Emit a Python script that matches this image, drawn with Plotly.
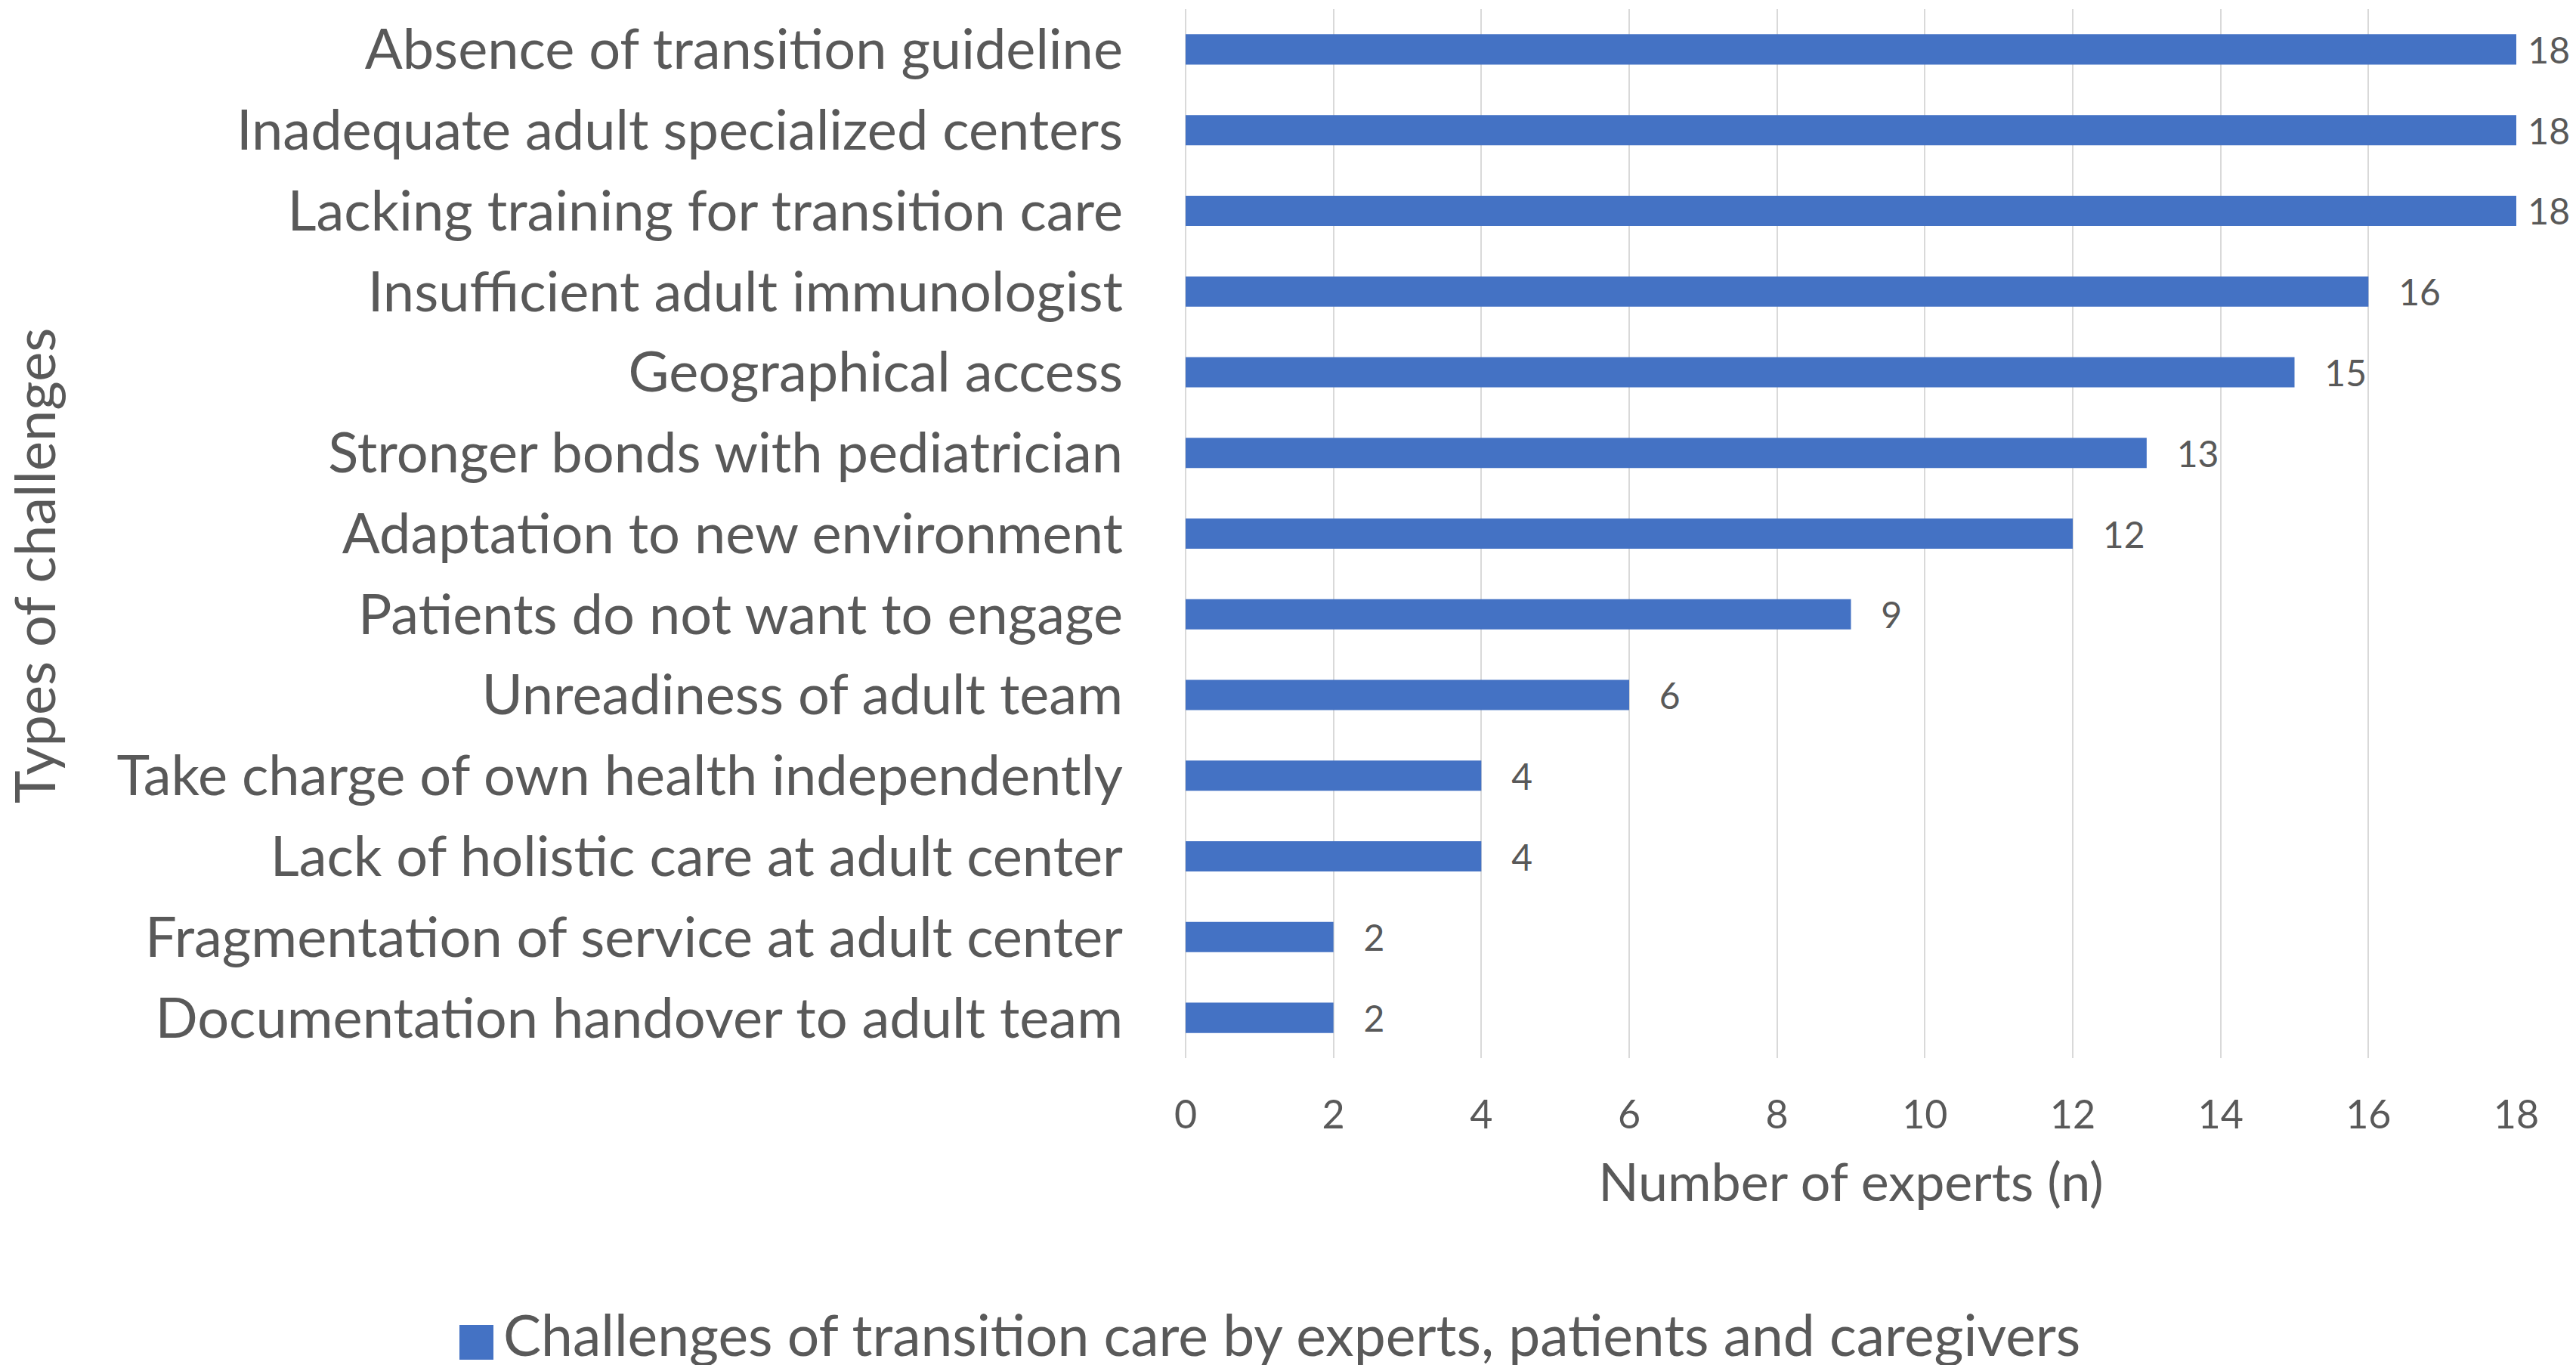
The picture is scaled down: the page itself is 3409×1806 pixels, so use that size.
import plotly.graph_objects as go

categories = [
    "Absence of transition guideline",
    "Inadequate adult specialized centers",
    "Lacking training for transition care",
    "Insufficient adult immunologist",
    "Geographical access",
    "Stronger bonds with pediatrician",
    "Adaptation to new environment",
    "Patients do not want to engage",
    "Unreadiness of adult team",
    "Take charge of own health independently",
    "Lack of holistic care at adult center",
    "Fragmentation of service at adult center",
    "Documentation handover to adult team",
]
values = [18, 18, 18, 16, 15, 13, 12, 9, 6, 4, 4, 2, 2]
series_name = "Challenges of transition care by experts, patients and caregivers"
x_ticks = [0, 2, 4, 6, 8, 10, 12, 14, 16, 18]

W, H = 3409, 1806
L, R, T, B = 1561, 87, 4, 414
PW, PH = W - L - R, H - T - B
FONT = "Lato"
TXT = "#595959"
BLUE = "#4472C4"
GRID = "#D9D9D9"
X_MAX = 18


def px_x(px):
    return (px - L) / PW


def px_y(py):
    return (H - B - py) / PH


# like Excel, labels of bars reaching the axis end sit closer to the bar so they stay visible
bar_labels = [(" " if v >= X_MAX else "   ") + str(v) for v in values]

fig = go.Figure()
fig.add_trace(go.Bar(
    y=categories, x=values, orientation="h",
    name=series_name, showlegend=False,
    marker=dict(color=BLUE, line=dict(width=0)),
    text=bar_labels, texttemplate="%{text}", textposition="outside",
    constraintext="none",
    textfont=dict(family=FONT, size=48, color=TXT),
    cliponaxis=False,
))

fig.update_layout(
    width=W, height=H,
    margin=dict(l=L, r=R, t=T, b=B, pad=0),
    paper_bgcolor="white", plot_bgcolor="white",
    bargap=0.625,
    font=dict(family=FONT, color=TXT),
    showlegend=False,
    xaxis=dict(range=[0, X_MAX], tickvals=x_ticks, showgrid=True, gridcolor=GRID, gridwidth=2,
               zeroline=True, zerolinecolor=GRID, zerolinewidth=2,
               showline=False, ticks="", tickfont=dict(family=FONT, size=52, color=TXT),
               ticklabelstandoff=40,
               title=dict(text="Number of experts (n)", font=dict(family=FONT, size=70, color=TXT), standoff=36)),
    yaxis=dict(range=[12.5, -0.5], showgrid=False, showline=False, ticks="",
               tickfont=dict(family=FONT, size=74, color=TXT), ticklabelstandoff=82),
)

# y-axis title
fig.add_annotation(text="Types of challenges", textangle=-90, xref="paper", yref="paper",
                   x=px_x(36), y=0.469, xanchor="center", yanchor="middle",
                   showarrow=False, font=dict(family=FONT, size=74, color=TXT))

# legend: swatch + label
fig.add_shape(type="rect", xref="paper", yref="paper",
              x0=px_x(600), x1=px_x(645), y0=px_y(1791), y1=px_y(1745),
              fillcolor=BLUE, line=dict(width=0), layer="above")
fig.add_annotation(text=series_name, xref="paper", yref="paper",
                   x=px_x(656), y=px_y(1757), xanchor="left", yanchor="middle",
                   showarrow=False, font=dict(family=FONT, size=75, color=TXT))

fig.write_html("out.html")
